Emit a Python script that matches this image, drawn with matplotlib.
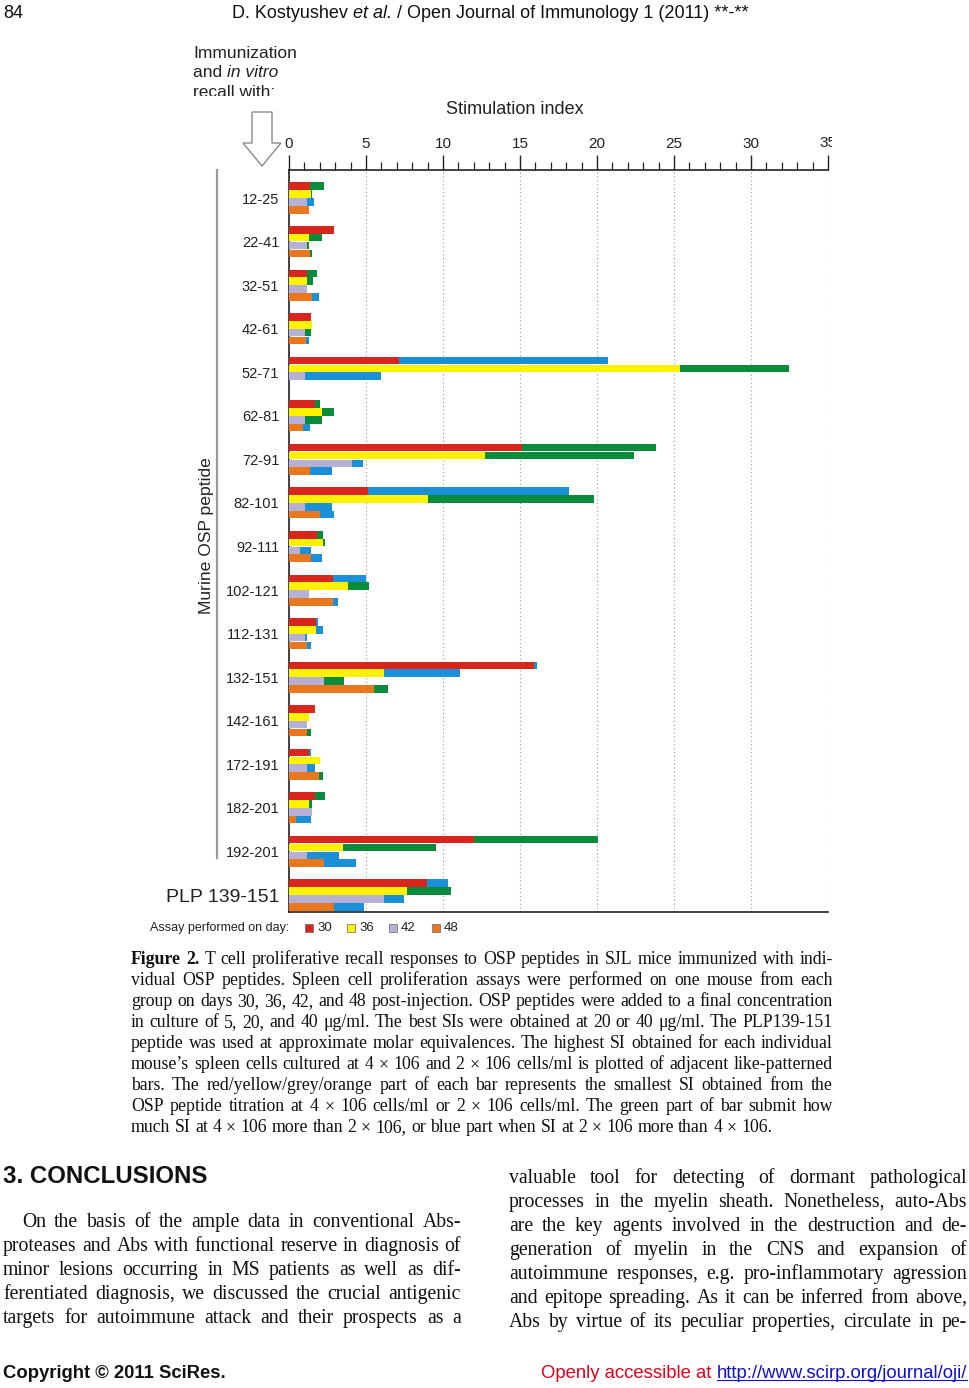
import matplotlib
matplotlib.use('Agg')
import matplotlib.pyplot as plt
import numpy as np
from matplotlib.patches import Polygon, Rectangle
from matplotlib.lines import Line2D
from matplotlib.transforms import Bbox

# ---------------- data ----------------
peptides = ['12-25', '22-41', '32-51', '42-61', '52-71', '62-81', '72-91', '82-101',
            '92-111', '102-121', '112-131', '132-151', '142-161', '172-191', '182-201',
            '192-201', 'PLP 139-151']

# smallest SI (coloured part) and highest SI (end of bar) per assay day
d30_min = [1.36, 2.90, 1.20, 1.41, 7.15, 1.68, 15.1, 5.10, 1.84, 2.85, 1.76, 15.9, 1.70, 1.33, 1.70, 12.0, 8.94]
d30_max = [2.26, 2.90, 1.81, 1.41, 20.7, 1.99, 23.8, 18.2, 2.20, 5.03, 1.89, 16.1, 1.70, 1.41, 2.31, 20.05, 10.3]
d30_hi = ['g', '', 'g', '', 'b', 'g', 'g', 'b', 'g', 'b', 'b', 'b', '', 'b', 'g', 'g', 'b']

d36_min = [1.41, 1.30, 1.20, 1.52, 25.4, 2.13, 12.7, 9.00, 2.18, 3.86, 1.73, 6.14, 1.28, 2.02, 1.30, 3.48, 7.69]
d36_max = [1.52, 2.15, 1.57, 1.52, 32.5, 2.90, 22.4, 19.8, 2.31, 5.19, 2.23, 11.1, 1.28, 2.02, 1.49, 9.55, 10.5]
d36_hi = ['g', 'g', 'g', '', 'g', 'g', 'g', 'g', 'g', 'g', 'b', 'b', '', '', 'g', 'g', 'g']

d42_min = [1.20, 1.20, 1.20, 1.06, 1.06, 1.06, 4.07, 1.01, 0.69, 1.28, 1.01, 2.29, 1.20, 1.20, 1.49, 1.20, 6.17]
d42_max = [1.65, 1.30, 1.20, 1.44, 5.98, 2.15, 4.79, 2.82, 1.41, 1.28, 1.14, 3.56, 1.20, 1.68, 1.49, 3.24, 7.46]
d42_hi = ['b', 'g', '', 'g', 'b', 'g', 'b', 'b', 'b', '', 'b', 'g', '', 'b', '', 'b', 'b']

d48_min = [1.28, 1.36, 1.49, 1.12, 0.0, 0.90, 1.38, 2.02, 1.44, 2.87, 1.17, 5.50, 1.20, 1.94, 0.48, 2.29, 2.89]
d48_max = [1.28, 1.52, 1.97, 1.33, 0.0, 1.36, 2.79, 2.93, 2.13, 3.16, 1.44, 6.44, 1.41, 2.20, 1.46, 4.34, 4.89]
d48_hi = ['', 'g', 'b', 'b', '', 'b', 'b', 'b', 'b', 'b', 'b', 'g', 'g', 'g', 'b', 'b', 'b']

days = ['30', '36', '42', '48']
x_ticks = [0, 5, 10, 15, 20, 25, 30, 35]

# ---------------- style ----------------
RED, YELLOW, GREY, ORANGE = '#D9261C', '#FFF200', '#B6B0D4', '#E8771E'
GREEN, BLUE = '#0B8C3C', '#1A90D8'
day_colors = [RED, YELLOW, GREY, ORANGE]

W, H = 970, 1388
fig = plt.figure(figsize=(W / 100, H / 100), dpi=100)
fig.patch.set_facecolor('white')


def fx(x):
    return x / W


def fy(y):
    return 1 - y / H


SANS = ['Liberation Sans', 'DejaVu Sans']
NARROW = ['Liberation Sans Narrow', 'Liberation Sans', 'DejaVu Sans']
SERIF = ['Liberation Serif', 'DejaVu Serif']

# ---------------- chart ----------------
ax_left, ax_right, ax_top, ax_bot = 289, 828, 170, 912
ax = fig.add_axes([fx(ax_left), fy(ax_bot), (ax_right - ax_left) / W, (ax_bot - ax_top) / H])

n = len(peptides)
ypos = np.arange(n)
pitch, bh = 0.180, 0.174
offsets = [-1.5, -0.5, 0.5, 1.5]
series = [(d30_min, d30_max, d30_hi), (d36_min, d36_max, d36_hi),
          (d42_min, d42_max, d42_hi), (d48_min, d48_max, d48_hi)]
for k, (mn, mx, hi) in enumerate(series):
    yy = ypos + offsets[k] * pitch
    mn = np.array(mn)
    mx = np.array(mx)
    ax.barh(yy, mn, height=bh, color=day_colors[k], linewidth=0, zorder=3)
    ext_cols = [GREEN if c == 'g' else BLUE for c in hi]
    ax.barh(yy, mx - mn, left=mn, height=bh, color=ext_cols, linewidth=0, zorder=3)

ax.set_xlim(0, 35)
ax.set_ylim(16.39, -0.643)
ax.xaxis.tick_top()
ax.set_xticks(x_ticks)
ax.set_xticklabels([str(t) for t in x_ticks[:-1]] + [''])
ax.set_xticks(np.arange(0, 36, 1), minor=True)
ax.tick_params(axis='x', which='major', direction='out', length=11, width=1.0,
               pad=3, labelsize=11, colors='#222222')
ax.tick_params(axis='x', which='minor', direction='out', length=5.5, width=0.9, colors='#222222')
for lab in ax.get_xticklabels():
    lab.set_family(SANS)
ax.set_yticks(ypos)
ax.set_yticklabels(peptides, family=SANS)
ax.tick_params(axis='y', length=0, pad=7, labelsize=10.5, colors='#222222')
ax.get_yticklabels()[-1].set_fontsize(14)
ax.spines['right'].set_visible(False)
for s in ['top', 'bottom', 'left']:
    ax.spines[s].set_linewidth(1.2)
    ax.spines[s].set_color('#222222')
ax.grid(axis='x', which='major', linestyle=(0, (1, 2.5)), color='#9a9a9a', linewidth=0.8)
ax.set_axisbelow(True)

# clipped "35" label at the right edge
t35 = fig.text(fx(828), fy(143), '35', ha='center', va='center', fontsize=11,
               family=SANS, color='#222222')
t35.set_clip_box(Bbox.from_extents(0, 0, 832, H))
t35.set_clip_on(True)

fig.text(fx(515), fy(110), 'Stimulation index', ha='center', va='center', fontsize=13, family=SANS,
         color='#222222')
fig.text(fx(207), fy(536), 'Murine OSP peptide', ha='center', va='center', rotation=90,
         fontsize=12.6, family=SANS, color='#222222')

# bracket line on the left
fig.add_artist(Line2D([fx(217), fx(217)], [fy(170), fy(858)], color='#9a9a9a', lw=1.6))

# outline arrow
arrow_pts = [(252, 112), (272, 112), (272, 143), (281, 143), (262, 166), (243, 143), (252, 143)]
fig.add_artist(Polygon([(fx(a), fy(b)) for a, b in arrow_pts], closed=True, facecolor='white',
                       edgecolor='#8a8a8a', lw=1.0, transform=fig.transFigure))

renderer = fig.canvas.get_renderer()


def text_width(s, **kw):
    t = fig.text(0, 0, s, **kw)
    w = t.get_window_extent(renderer).width
    t.remove()
    return w


# immunization text
kw_imm = dict(fontsize=12.5, family=SANS, color='#222222')
fig.text(fx(193), fy(58), 'Immunization', ha='left', va='baseline', **kw_imm)
fig.text(fx(193), fy(77), 'and ', ha='left', va='baseline', **kw_imm)
wand = text_width('and ', **kw_imm)
fig.text(fx(193 + wand), fy(77), 'in vitro', ha='left', va='baseline', style='italic', **kw_imm)
trec = fig.text(fx(193), fy(97), 'recall with:', ha='left', va='baseline', **kw_imm)
trec.set_clip_box(Bbox.from_extents(0, H - 96, W, H))
trec.set_clip_on(True)

# legend
fig.text(fx(289), fy(928), 'Assay performed on day:', ha='right', va='center', fontsize=9,
         family=SANS, color='#222222')
leg_x = [305, 347, 389, 432]
for lx, c, d in zip(leg_x, day_colors, days):
    fig.add_artist(Rectangle((fx(lx), fy(932)), 8 / W, 8 / H, facecolor=c, edgecolor='#666666',
                             lw=0.5, transform=fig.transFigure))
    fig.text(fx(lx + 12), fy(928), d, ha='left', va='center', fontsize=9.5, family=SANS,
             color='#222222')


# ---------------- page text ----------------
def put_line(words, x0, x1, yb, justify=True, **base):
    ws = []
    for w in words:
        if isinstance(w, tuple):
            s, extra = w
        else:
            s, extra = w, {}
        kw = dict(base)
        kw.update(extra)
        ws.append((s, kw, text_width(s, **kw)))
    total = sum(w for _, _, w in ws)
    space = text_width('a b', **base) - text_width('ab', **base)
    if justify and len(ws) > 1:
        gap = (x1 - x0 - total) / (len(ws) - 1)
    else:
        gap = space
    x = x0
    for s, kw, w in ws:
        fig.text(fx(x), fy(yb), s, ha='left', va='baseline', **kw)
        x += w + gap


cap_lines = [
    "T cell proliferative recall responses to OSP peptides in SJL mice immunized with indi-",
    "vidual OSP peptides. Spleen cell proliferation assays were performed on one mouse from each",
    "group on days 30, 36, 42, and 48 post-injection. OSP peptides were added to a final concentration",
    "in culture of 5, 20, and 40 μg/ml. The best SIs were obtained at 20 or 40 μg/ml. The PLP139-151",
    "peptide was used at approximate molar equivalences. The highest SI obtained for each individual",
    "mouse’s spleen cells cultured at 4 × 106 and 2 × 106 cells/ml is plotted of adjacent like-patterned",
    "bars. The red/yellow/grey/orange part of each bar represents the smallest SI obtained from the",
    "OSP peptide titration at 4 × 106 cells/ml or 2 × 106 cells/ml. The green part of bar submit how",
    "much SI at 4 × 106 more than 2 × 106, or blue part when SI at 2 × 106 more than 4 × 106.",
]
cap_kw = dict(fontsize=12.8, family=SERIF, color='#111111')
for i, line in enumerate(cap_lines):
    words = line.split(' ')
    if i == 0:
        words = [('Figure', {'weight': 'bold'}), ('2.', {'weight': 'bold'})] + words
    put_line(words, 131, 833, 964 + 21 * i, justify=(i < len(cap_lines) - 1), **cap_kw)

fig.text(fx(3), fy(1183), '3. CONCLUSIONS', ha='left', va='baseline', fontsize=17.3, weight='bold',
         family=SANS, color='#111111')

body_kw = dict(fontsize=14.2, family=SERIF, color='#111111')
left_lines = [
    "On the basis of the ample data in conventional Abs-",
    "proteases and Abs with functional reserve in diagnosis of",
    "minor lesions occurring in MS patients as well as dif-",
    "ferentiated diagnosis, we discussed the crucial antigenic",
    "targets for autoimmune attack and their prospects as a",
]
for i, line in enumerate(left_lines):
    put_line(line.split(' '), 22 if i == 0 else 3, 461, 1227 + 24 * i, **body_kw)

right_lines = [
    "valuable tool for detecting of dormant pathological",
    "processes in the myelin sheath. Nonetheless, auto-Abs",
    "are the key agents involved in the destruction and de-",
    "generation of myelin in the CNS and expansion of",
    "autoimmune responses, e.g. pro-inflammotary agression",
    "and epitope spreading. As it can be inferred from above,",
    "Abs by virtue of its peculiar properties, circulate in pe-",
]
for i, line in enumerate(right_lines):
    put_line(line.split(' '), 509, 967, 1183 + 24 * i, **body_kw)

# header
hdr_kw = dict(fontsize=13, family=NARROW, color='#111111')
fig.text(fx(3), fy(18), '84', ha='left', va='baseline', **hdr_kw)
hparts = [('D. Kostyushev ', {}), ('et al.', {'style': 'italic'}),
          (' / Open Journal of Immunology 1 (2011) **-**', {})]
hw = [text_width(s, **hdr_kw, **e) for s, e in hparts]
hx = 490 - sum(hw) / 2
for (s, e), w in zip(hparts, hw):
    fig.text(fx(hx), fy(18), s, ha='left', va='baseline', **hdr_kw, **e)
    hx += w

# footer
ft_kw = dict(fontsize=13.3, family=NARROW)
fig.text(fx(3), fy(1378), 'Copyright © 2011 SciRes.', ha='left', va='baseline', weight='bold',
         color='#111111', **ft_kw)
s1, s2 = 'Openly accessible at ', 'http://www.scirp.org/journal/oji/'
w1 = text_width(s1, **ft_kw)
w2 = text_width(s2, **ft_kw)
x0 = 967 - w1 - w2
fig.text(fx(x0), fy(1378), s1, ha='left', va='baseline', color='#E2001A', **ft_kw)
fig.text(fx(x0 + w1), fy(1378), s2, ha='left', va='baseline', color='#1010CC', **ft_kw)
fig.add_artist(Line2D([fx(x0 + w1), fx(967)], [fy(1380), fy(1380)], color='#1010CC', lw=0.8))

fig.savefig('out.png', dpi=100, facecolor='white')
